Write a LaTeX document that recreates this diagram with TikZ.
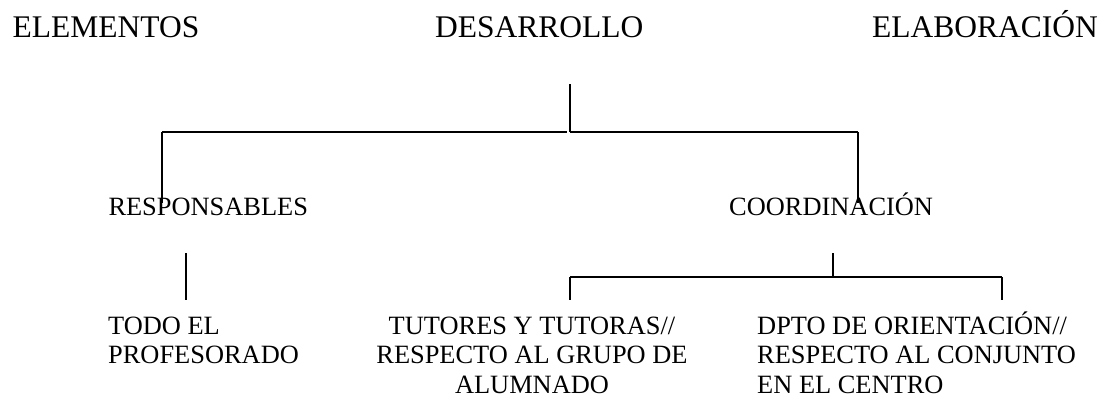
\documentclass[tikz,border=0pt]{standalone}
\usepackage{fontspec}
\setmainfont{Liberation Serif}
\begin{document}
\begin{tikzpicture}[x=1pt,y=-1pt,
  big/.style={font=\fontsize{31.5}{36}\selectfont, inner sep=0pt, anchor=base west},
  lab/.style={font=\fontsize{26.4}{29.5}\selectfont, inner sep=0pt, anchor=base west},
  conn/.style={line width=1.3pt, black}]
\useasboundingbox (0,0) rectangle (1103,399);
% headings
\node[big] (elem) at (12.5,37.7) {ELEMENTOS};
\node[big] (desa) at (435,37.7) {DESARROLLO};
\node[big] (elab) at (872,37.7) {ELABORACIÓN};
% second level
\node[lab] (resp) at (108.3,215) {RESPONSABLES};
\node[lab] (coord) at (729,215) {COORDINACIÓN};
% third level (anchor base = baseline of the last line)
\node[lab, align=left] (todo) at (108,363.5) {TODO EL\\PROFESORADO};
\node[lab, align=center, anchor=base] (tut) at (532,393) {TUTORES Y TUTORAS//\\RESPECTO AL GRUPO DE\\ALUMNADO};
\node[lab, align=left] (dpto) at (757,393) {DPTO DE ORIENTACIÓN//\\RESPECTO AL CONJUNTO\\EN EL CENTRO};
% junction coordinates
\coordinate (t0) at (570,84);
\coordinate (t1) at (570,132);
\coordinate (tl) at (162,132);
\coordinate (tlg) at (567,132);
\coordinate (tr) at (858,132);
\coordinate (rtop) at (162,203);
\coordinate (ctop) at (858,203);
\coordinate (r0) at (186,253);
\coordinate (r1) at (186,300);
\coordinate (c0) at (833,253);
\coordinate (c1) at (833,277);
\coordinate (cl) at (570,277);
\coordinate (cr) at (1002,277);
\coordinate (tuttop) at (570,300);
\coordinate (dptotop) at (1002,300);
% connectors
\draw[conn] (t0) -- (t1);
\draw[conn] (tl) -- (tlg);
\draw[conn] (t1) -- (tr);
\draw[conn] (tl) -- (rtop);
\draw[conn] (tr) -- (ctop);
\draw[conn] (r0) -- (r1);
\draw[conn] (c0) -- (c1);
\draw[conn] (cl) -- (cr);
\draw[conn] (cl) -- (tuttop);
\draw[conn] (cr) -- (dptotop);
\end{tikzpicture}
\end{document}
